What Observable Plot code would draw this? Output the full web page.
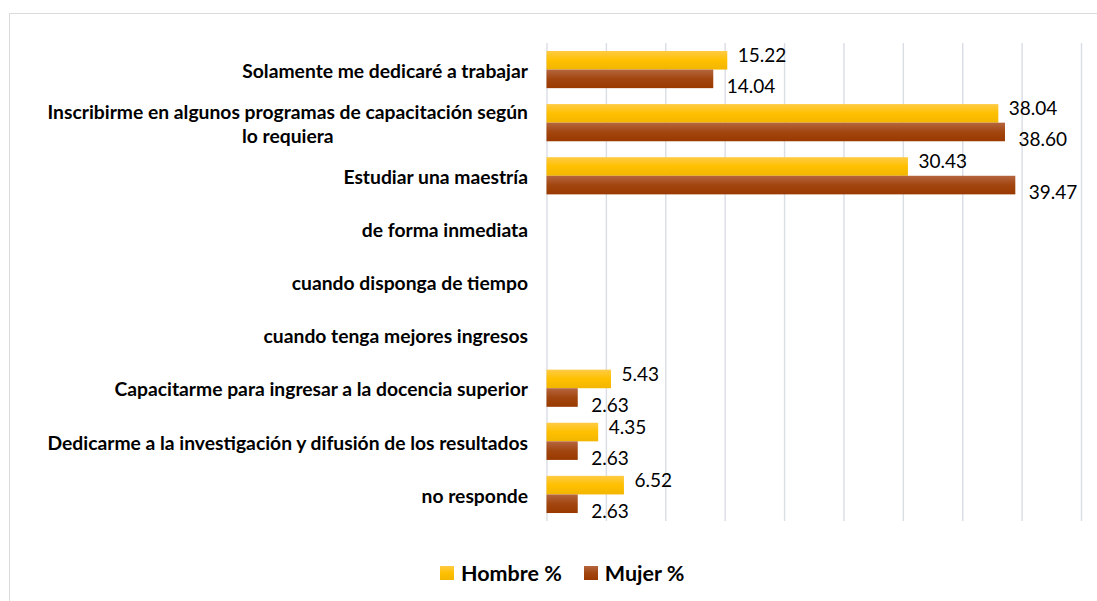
<!DOCTYPE html>
<html>
<head>
<meta charset="utf-8">
<script src="https://cdn.jsdelivr.net/npm/d3@7"></script>
<script src="https://cdn.jsdelivr.net/npm/@observablehq/plot@0.6"></script>
<style>
  html, body { margin: 0; padding: 0; background: #fff; overflow: hidden; }
  #wrap { position: relative; width: 1097px; height: 601px; font-family: Lato, sans-serif; }
  #chart { position: absolute; left: 0; top: 0; }
  #frame { position: absolute; left: 9px; top: 13px; width: 1200px; height: 700px;
           border-top: 1.5px solid #dcdcdc; border-left: 1.5px solid #dcdcdc; pointer-events: none; }
  #legend { position: absolute; top: 560px; left: 440px; display: flex; align-items: center;
            font-weight: 700; font-size: 21.5px; color: #000; white-space: nowrap; }
  .item { display: flex; align-items: center; margin-right: 22px; }
  .sw { width: 14px; height: 14px; display: inline-block; margin-right: 7px; }
</style>
</head>
<body>
<div id="wrap">
  <div id="chart"></div>
  <div id="legend"></div>
  <div id="frame"></div>
</div>
<script>
// ---- data ----
const categories = [
  "Solamente me dedicaré a trabajar",
  "Inscribirme en algunos programas de capacitación según\nlo requiera",
  "Estudiar una maestría",
  "de forma inmediata",
  "cuando disponga de tiempo",
  "cuando tenga mejores ingresos",
  "Capacitarme para ingresar a la docencia superior",
  "Dedicarme a la investigación y difusión de los resultados",
  "no responde"
];
const hombre = [15.22, 38.04, 30.43, null, null, null, 5.43, 4.35, 6.52];
const mujer  = [14.04, 38.60, 39.47, null, null, null, 2.63, 2.63, 2.63];
const seriesNames = ["Hombre %", "Mujer %"];
const xTicks = [0, 5, 10, 15, 20, 25, 30, 35, 40, 45];

// ---- layout ----
const W = 1097, H = 545, mt = 43, mb = 24, ml = 546.5, mr = 16;
const padInner = 0.3, padOuter = 0.15;
const step = (H - mt - mb) / (categories.length - padInner + 2 * padOuter);
const bw = step * (1 - padInner);

const rowsH = categories.map((c, i) => ({cat: c, value: hombre[i]})).filter(d => d.value != null);
const rowsM = categories.map((c, i) => ({cat: c, value: mujer[i]})).filter(d => d.value != null);

const svg = Plot.plot({
  width: W, height: H,
  marginTop: mt, marginBottom: mb, marginLeft: ml, marginRight: mr,
  style: {fontFamily: "Lato, sans-serif", background: "transparent", color: "#000"},
  x: {domain: [0, 45], axis: null},
  y: {domain: categories, paddingInner: padInner, paddingOuter: padOuter, round: false},
  marks: [
    Plot.ruleX(xTicks, {stroke: "#d9dde4", strokeWidth: 1.4}),
    Plot.barX(rowsH, {x: "value", y: "cat", fill: "url(#gH)", insetBottom: bw / 2}),
    Plot.barX(rowsM, {x: "value", y: "cat", fill: "url(#gM)", insetTop: bw / 2}),
    Plot.text(rowsH, {x: "value", y: "cat", text: d => d.value.toFixed(2), textAnchor: "start",
                      dx: 10, dy: -14, fontSize: 19, fill: "#000"}),
    Plot.text(rowsM, {x: "value", y: "cat", text: d => d.value.toFixed(2), textAnchor: "start",
                      dx: 13, dy: 17, fontSize: 19, fill: "#000"}),
    Plot.axisY({tickSize: 0, tickPadding: 19, fontSize: 19.3, fontWeight: "bold",
                lineHeight: 1.25, fill: "#000", label: null})
  ]
});

// gradients for the bars
const defs = d3.select(svg).insert("defs", ":first-child");
function grad(id, stops) {
  const g = defs.append("linearGradient").attr("id", id)
    .attr("x1", 0).attr("y1", 0).attr("x2", 0).attr("y2", 1);
  stops.forEach(([o, c]) => g.append("stop").attr("offset", o).attr("stop-color", c));
}
grad("gH", [[0, "#FFCB45"], [0.5, "#FFC000"], [1, "#F2B600"]]);
grad("gM", [[0, "#B5653F"], [0.5, "#A2460F"], [1, "#993900"]]);

document.getElementById("chart").append(svg);

// center continuation line of wrapped tick labels
svg.querySelectorAll('g[aria-label="y-axis tick label"] text').forEach(t => {
  const ts = t.querySelectorAll("tspan");
  if (ts.length > 1) {
    const w = ts[0].getComputedTextLength();
    for (let k = 1; k < ts.length; k++) {
      ts[k].setAttribute("x", -w / 2);
      ts[k].setAttribute("text-anchor", "middle");
    }
  }
});

// legend
const legendColors = ["linear-gradient(#FFCB45, #FFC000 50%, #F2B600)",
                      "linear-gradient(#B5653F, #A2460F 50%, #993900)"];
const leg = document.getElementById("legend");
seriesNames.forEach((s, i) => {
  const it = document.createElement("span");
  it.className = "item";
  const sw = document.createElement("span");
  sw.className = "sw";
  sw.style.background = legendColors[i];
  it.append(sw, document.createTextNode(s));
  leg.append(it);
});
</script>
</body>
</html>
